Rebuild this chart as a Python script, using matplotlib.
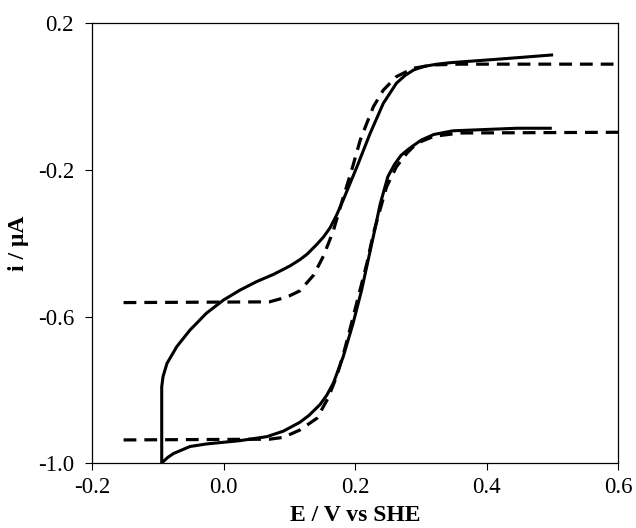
import numpy as np
import matplotlib
matplotlib.use("Agg")
import matplotlib.pyplot as plt

plt.rcParams['font.family'] = ['Liberation Serif', 'DejaVu Serif']

# experimental CV, upper branch (E ascending)
E_up = [-0.094, -0.092, -0.086, -0.071, -0.051, -0.026, 0.000, 0.025, 0.050, 0.076,
        0.101, 0.116, 0.127, 0.142, 0.152, 0.162, 0.172, 0.182, 0.203, 0.223, 0.243,
        0.263, 0.276, 0.289, 0.305, 0.325, 0.345, 0.421, 0.499]
i_up = [-0.792, -0.764, -0.728, -0.682, -0.637, -0.591, -0.555, -0.528, -0.505, -0.485,
        -0.462, -0.445, -0.430, -0.403, -0.383, -0.358, -0.323, -0.282, -0.191, -0.100,
        -0.018, 0.037, 0.058, 0.073, 0.083, 0.089, 0.093, 0.103, 0.114]

# experimental CV, lower branch
E_low = [-0.094, -0.085, -0.076, -0.051, -0.026, 0.025, 0.066, 0.091, 0.116, 0.130,
         0.147, 0.157, 0.167, 0.182, 0.197, 0.210, 0.220, 0.230, 0.238, 0.250, 0.260,
         0.270, 0.280, 0.289, 0.301, 0.320, 0.349, 0.446, 0.497]
i_low = [-1.000, -0.985, -0.974, -0.955, -0.948, -0.939, -0.928, -0.913, -0.889, -0.870,
         -0.840, -0.815, -0.782, -0.710, -0.619, -0.528, -0.446, -0.364, -0.295, -0.218,
         -0.185, -0.160, -0.145, -0.133, -0.118, -0.103, -0.093, -0.086, -0.086]

# simulated curves (dashed)
E_sim_up = [-0.152, 0.070, 0.086, 0.101, 0.116, 0.137, 0.152, 0.167, 0.182, 0.195,
            0.208, 0.218, 0.228, 0.243, 0.263, 0.289, 0.320, 0.360, 0.600]
i_sim_up = [-0.562, -0.560, -0.552, -0.543, -0.530, -0.487, -0.435, -0.366, -0.275, -0.200,
            -0.118, -0.072, -0.027, 0.018, 0.055, 0.078, 0.087, 0.089, 0.089]

E_sim_low = [-0.152, 0.070, 0.091, 0.116, 0.142, 0.159, 0.172, 0.182, 0.192, 0.205,
             0.218, 0.228, 0.238, 0.248, 0.263, 0.279, 0.294, 0.320, 0.360, 0.600]
i_sim_low = [-0.937, -0.935, -0.930, -0.910, -0.878, -0.823, -0.764, -0.705, -0.637, -0.546,
             -0.455, -0.373, -0.309, -0.246, -0.191, -0.154, -0.127, -0.108, -0.099, -0.097]

x_ticks = [-0.2, 0.0, 0.2, 0.4, 0.6]
y_ticks = [-1.0, -0.6, -0.2, 0.2]

fig = plt.figure(figsize=(6.36, 5.28), dpi=100)
ax = fig.add_axes([0.1447, 0.1231, 0.8270, 0.8324])

# CV as one path: upper branch back to the start, then lower branch forward
E_cv = E_up[::-1] + E_low
i_cv = i_up[::-1] + i_low
ax.plot(E_cv, i_cv, color='black', lw=2.2, solid_joinstyle='round')
ax.plot(E_sim_up, i_sim_up, color='black', lw=2.3, dashes=(4, 2.5))
ax.plot(E_sim_low, i_sim_low, color='black', lw=2.3, dashes=(4, 2.5))

ax.set_xlim(-0.2, 0.6)
ax.set_ylim(-1.0, 0.2)
ax.set_xticks(x_ticks)
ax.set_yticks(y_ticks)
ax.set_xticklabels([f"{v:.1f}" for v in x_ticks])
ax.set_yticklabels([f"{v:.1f}" for v in y_ticks])
ax.tick_params(direction='out', length=5, width=0.8, labelsize=16.5)
ax.tick_params(axis='y', pad=8)
ax.tick_params(axis='x', pad=5)
for s in ax.spines.values():
    s.set_linewidth(0.9)

ax.set_xlabel('E / V vs SHE', fontsize=17, fontweight='bold', labelpad=5)
ax.set_ylabel('i / μA', fontsize=17, fontweight='bold', labelpad=6)

fig.savefig('out.png', dpi=100)
